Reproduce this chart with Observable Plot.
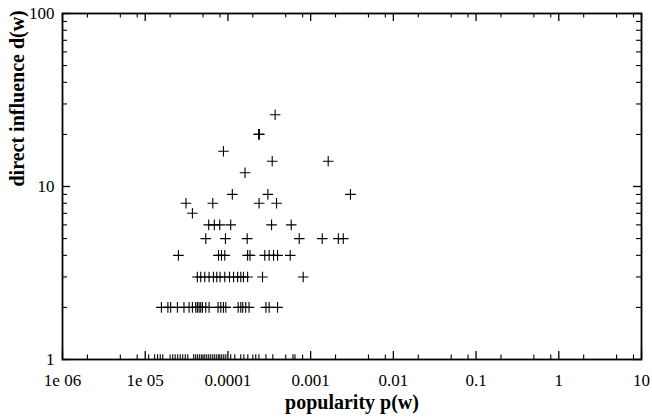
<!DOCTYPE html>
<html>
<head>
<meta charset="utf-8">
<script src="https://cdn.jsdelivr.net/npm/d3@7"></script>
<script src="https://cdn.jsdelivr.net/npm/@observablehq/plot@0.6"></script>
<style>
  html, body { margin: 0; padding: 0; background: #fff; }
  #chart svg { display: block; }
</style>
</head>
<body>
<div id="chart"></div>
<script>
// ---- Data: popularity p(w) values grouped by direct influence d(w) ----
const pAt1 = [1.10e-5, 1.30e-5, 1.41e-5, 1.52e-5, 1.63e-5, 2.15e-5, 2.30e-5, 2.47e-5, 2.65e-5, 2.84e-5, 3.05e-5, 3.27e-5,
  3.86e-5, 4.08e-5, 4.31e-5, 4.56e-5, 4.82e-5, 5.25e-5, 5.55e-5, 5.86e-5, 6.19e-5, 6.56e-5, 6.93e-5, 7.33e-5, 7.74e-5,
  8.43e-5, 8.91e-5, 9.42e-5, 1.08e-4, 1.21e-4, 1.43e-4, 1.56e-4, 1.74e-4, 2.17e-4, 2.37e-4, 2.88e-4, 3.49e-4, 6.11e-4, 6.46e-4];
const pAt2 = [1.57e-5, 1.88e-5, 2.03e-5, 2.45e-5, 2.94e-5, 3.39e-5, 3.72e-5, 4.08e-5, 4.27e-5, 4.48e-5, 4.69e-5, 4.92e-5,
  5.40e-5, 5.92e-5, 7.60e-5, 8.20e-5, 8.83e-5, 9.42e-5, 1.33e-4, 1.43e-4, 1.51e-4, 1.64e-4, 1.80e-4, 2.88e-4, 3.15e-4, 3.98e-4];
const pAt3 = [4.27e-5, 4.69e-5, 5.25e-5, 5.92e-5, 6.68e-5, 7.33e-5, 8.03e-5, 9.16e-5, 1.045e-4, 1.17e-4, 1.31e-4, 1.43e-4,
  1.54e-4, 1.73e-4, 2.62e-4, 8.13e-4];
const pAt4 = [2.52e-5, 7.69e-5, 8.35e-5, 9.16e-5, 1.73e-4, 1.85e-4, 2.79e-4, 3.15e-4, 3.56e-4, 3.98e-4, 5.66e-4];
const pAt5 = [5.40e-5, 9.33e-5, 1.71e-4, 7.28e-4, 1.38e-3, 2.16e-3, 2.48e-3];
const pAt6 = [5.86e-5, 6.84e-5, 7.96e-5, 1.08e-4, 3.37e-4, 5.82e-4];
const pAt7 = [3.72e-5];
const pAt8 = [3.11e-5, 6.56e-5, 2.38e-4, 3.87e-4];
const pAt9 = [1.13e-4, 3.04e-4, 3.03e-3];
const pAt12 = [1.61e-4];
const pAt14 = [3.43e-4, 1.63e-3];
const pAt16 = [8.83e-5];
const pAt20 = [2.35e-4, 2.40e-4];
const pAt26 = [3.72e-4];

// ---- Axis ticks and labels ----
const xMajorTicks = [1e-6, 1e-5, 1e-4, 1e-3, 1e-2, 1e-1, 1, 10];
const xTickLabels = ["1e 06", "1e 05", "0.0001", "0.001", "0.01", "0.1", "1", "10"];
const xMinorMultipliers = [2, 5, 8];
const yMajorTicks = [1, 10, 100];
const yTickLabels = ["1", "10", "100"];
const yMinorMultipliers = [2, 3, 4, 5, 6, 7, 8, 9];

const xTitle = "popularity p(w)";
const yTitle = "direct influence d(w)";

// ---- Build table ----
const groups = [[1, pAt1], [2, pAt2], [3, pAt3], [4, pAt4], [5, pAt5], [6, pAt6], [7, pAt7], [8, pAt8],
  [9, pAt9], [12, pAt12], [14, pAt14], [16, pAt16], [20, pAt20], [26, pAt26]];
const points = groups.flatMap(([d, ps]) => ps.map(p => ({p, d})));

const xMinorTicks = xMajorTicks.slice(0, -1).flatMap(t => xMinorMultipliers.map(m => t * m));
const yMinorTicks = yMajorTicks.slice(0, -1).flatMap(t => yMinorMultipliers.map(m => t * m));

const width = 652, height = 418;
const mL = 62, mR = 11, mT = 13, mB = 59;
const innerW = width - mL - mR, innerH = height - mT - mB;

// thin "+" symbol
const thinPlus = {
  draw(ctx, size) {
    const r = Math.sqrt(size / Math.PI);
    ctx.moveTo(-r, 0); ctx.lineTo(r, 0);
    ctx.moveTo(0, -r); ctx.lineTo(0, r);
  }
};

const font = "'Liberation Serif', 'Times New Roman', serif";
const chart = Plot.plot({
  width, height,
  marginLeft: mL, marginRight: mR, marginTop: mT, marginBottom: mB,
  style: {fontFamily: font, fontSize: "17px", color: "#000", background: "#fff"},
  x: {type: "log", domain: [1e-6, 10], label: null},
  y: {type: "log", domain: [1, 100], label: null},
  marks: [
    Plot.dot(points, {x: "p", y: "d", symbol: thinPlus, r: 5.3, stroke: "#000", strokeWidth: 1.1, fill: "none", clip: true}),
    // inward ticks: bottom & top
    Plot.tickX(xMajorTicks, {x: d => d, insetTop: innerH - 8, stroke: "#000", strokeWidth: 1.3}),
    Plot.tickX(xMajorTicks, {x: d => d, insetBottom: innerH - 8, stroke: "#000", strokeWidth: 1.3}),
    Plot.tickX(xMinorTicks, {x: d => d, insetTop: innerH - 4.5, stroke: "#000", strokeWidth: 1.1}),
    Plot.tickX(xMinorTicks, {x: d => d, insetBottom: innerH - 4.5, stroke: "#000", strokeWidth: 1.1}),
    // inward ticks: left & right
    Plot.tickY(yMajorTicks, {y: d => d, insetRight: innerW - 8, stroke: "#000", strokeWidth: 1.3}),
    Plot.tickY(yMajorTicks, {y: d => d, insetLeft: innerW - 8, stroke: "#000", strokeWidth: 1.3}),
    Plot.tickY(yMinorTicks, {y: d => d, insetRight: innerW - 5, stroke: "#000", strokeWidth: 1.1}),
    Plot.tickY(yMinorTicks, {y: d => d, insetLeft: innerW - 5, stroke: "#000", strokeWidth: 1.1}),
    Plot.axisX({ticks: xMajorTicks, tickSize: 0, tickPadding: 14, tickFormat: d => xTickLabels[xMajorTicks.indexOf(d)], label: null, fontSize: 17}),
    Plot.axisY({ticks: yMajorTicks, tickSize: 0, tickPadding: 8, tickFormat: d => yTickLabels[yMajorTicks.indexOf(d)], label: null, fontSize: 17}),
    Plot.frame({stroke: "#000", strokeWidth: 1.8}),
    Plot.text([xTitle], {frameAnchor: "bottom", text: d => d, dy: 49, fontWeight: "bold", fontSize: 20, fill: "#000"}),
    Plot.text([yTitle], {frameAnchor: "left", text: d => d, rotate: -90, dx: -45, fontWeight: "bold", fontSize: 20, fill: "#000"})
  ]
});
document.getElementById("chart").appendChild(chart);
</script>
</body>
</html>
